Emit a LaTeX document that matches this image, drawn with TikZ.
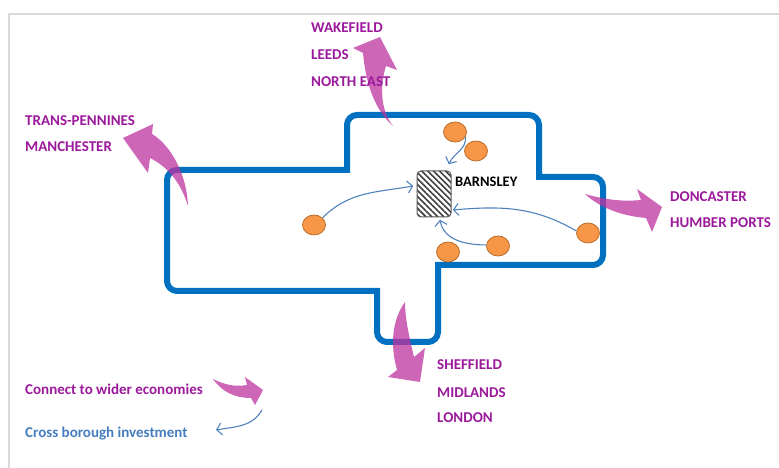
\documentclass[tikz,border=0pt]{standalone}
\usepackage{fontspec}
\setmainfont{Carlito}
\usetikzlibrary{arrows.meta,shapes.geometric,patterns.meta,calc}
\definecolor{outline}{RGB}{0,112,192}
\definecolor{pinkarrow}{RGB}{190,51,159}
\definecolor{labelpurple}{RGB}{155,25,155}
\definecolor{labelblue}{RGB}{70,125,190}
\definecolor{thinblue}{RGB}{79,129,189}
\definecolor{dotfill}{RGB}{247,150,70}
\definecolor{dotdraw}{RGB}{185,110,45}
\definecolor{framegray}{RGB}{217,217,217}
\begin{document}
\begin{tikzpicture}[x=1pt,y=1pt,
  place/.style={font=\fontsize{15}{17}\selectfont\bfseries, text=labelpurple, anchor=west, inner sep=0pt},
  legendpink/.style={font=\fontsize{15}{17}\selectfont\bfseries, text=labelpurple, anchor=west, inner sep=0pt},
  legendblue/.style={font=\fontsize{15}{17}\selectfont\bfseries, text=labelblue, anchor=west, inner sep=0pt},
  dot/.style={ellipse, minimum width=23pt, minimum height=20pt, inner sep=0pt, fill=dotfill, draw=dotdraw, line width=0.8pt},
  flow/.style={draw=thinblue, line width=1.1pt, -{Straight Barb[length=5pt,width=12pt]}},
  bigarrow/.style={fill=pinkarrow, fill opacity=0.75, draw=none}
]
\useasboundingbox (0,0) rectangle (779,468);
% frame
\draw[framegray, line width=2.5pt] (9,-5) -- (9,454) -- (790,454);
% outline of the borough
\draw[outline, line width=6pt, rounded corners=10pt]
  (347,298) -- (347,353) -- (539,353) [sharp corners] -- (539,291) [rounded corners=10pt] -- (603,291) -- (603,203) [sharp corners] -- (438,203) [rounded corners=10pt] -- (438,126) -- (377,126) [sharp corners] -- (377,177) [rounded corners=10pt] -- (167,177) -- (167,298) [sharp corners] -- cycle;
% Barnsley
\node[draw=black!65, line width=1pt, rounded corners=4pt, minimum width=34pt, minimum height=46pt, inner sep=0pt,
  pattern={Lines[angle=-45,distance=4.2pt,line width=1.6pt]}, pattern color=black!75] (box) at (434,274) {};
\node[font=\fontsize{14.5}{16}\selectfont\bfseries, anchor=west, inner sep=0pt] (barnsley) at (455,286) {BARNSLEY};
% dots
\node[dot] (c1) at (455,336) {};
\node[dot] (c2) at (476,317) {};
\node[dot] (c3) at (314,243) {};
\node[dot] (c4) at (448,216) {};
\node[dot] (c5) at (498,222) {};
\node[dot] (c6) at (588,235) {};
% flows into Barnsley
\draw[flow] (c1.-25) to[out=-85,in=65] ($(box.north east)+(-3,6)$);
\draw[flow] (c3.40) to[out=45,in=190] ($(box.west)+(-3,8)$);
\draw[flow] (c6.170) to[out=150,in=5] ($(box.east)+(1,-16)$);
\draw[flow] (c5.175) to[out=180,in=-80] ($(box.south)+(6,-2)$);
% big pink arrows
\path[bigarrow] (393,342) .. controls (375,358) and (366,383) .. (363,415) -- (353,420) -- (380,431) -- (397,398) -- (386,402) .. controls (380,383) and (380,358) .. (393,342) -- cycle;
\path[bigarrow] (188,262) .. controls (187,292) and (172,322) .. (152,334) -- (153,344) -- (123,330) -- (148,295) -- (150,310) .. controls (166,302) and (180,288) .. (188,262) -- cycle;
\path[bigarrow] (585,274) .. controls (603,269) and (620,266) .. (641,268) -- (637,279) -- (662,261) -- (652,236) -- (646,250) .. controls (622,252) and (600,260) .. (585,274) -- cycle;
\path[bigarrow] (405,166) .. controls (405,148) and (410,128) .. (414,111) -- (425,120) -- (420,86) -- (388,91) -- (397,98) .. controls (390,123) and (392,148) .. (405,166) -- cycle;
\path[bigarrow] (213,89) .. controls (225,83) and (235,81) .. (247,83) -- (245,91) -- (263,78) -- (255,63) -- (251,70) .. controls (235,70) and (222,76) .. (213,89) -- cycle;
% labels
\node[place] (wak) at (311,440) {WAKEFIELD};
\node[place] (lee) at (311,413) {LEEDS};
\node[place] (ne) at (311,386) {NORTH EAST};
\node[place] (tp) at (25,347) {TRANS-PENNINES};
\node[place] (man) at (25,321) {MANCHESTER};
\node[place] (don) at (670,271) {DONCASTER};
\node[place] (hum) at (670,245) {HUMBER PORTS};
\node[place] (she) at (437,103) {SHEFFIELD};
\node[place] (mid) at (437,75) {MIDLANDS};
\node[place] (lon) at (437,50) {LONDON};
% legend
\node[legendpink] (leg1) at (25,79) {Connect to wider economies};
\node[legendblue] (leg2) at (25,34) {Cross borough investment};
\coordinate (lb1) at (262,58);
\coordinate (lb2) at (216,38);
\draw[flow] (lb1) to[out=-120,in=10] (lb2);
\end{tikzpicture}
\end{document}
